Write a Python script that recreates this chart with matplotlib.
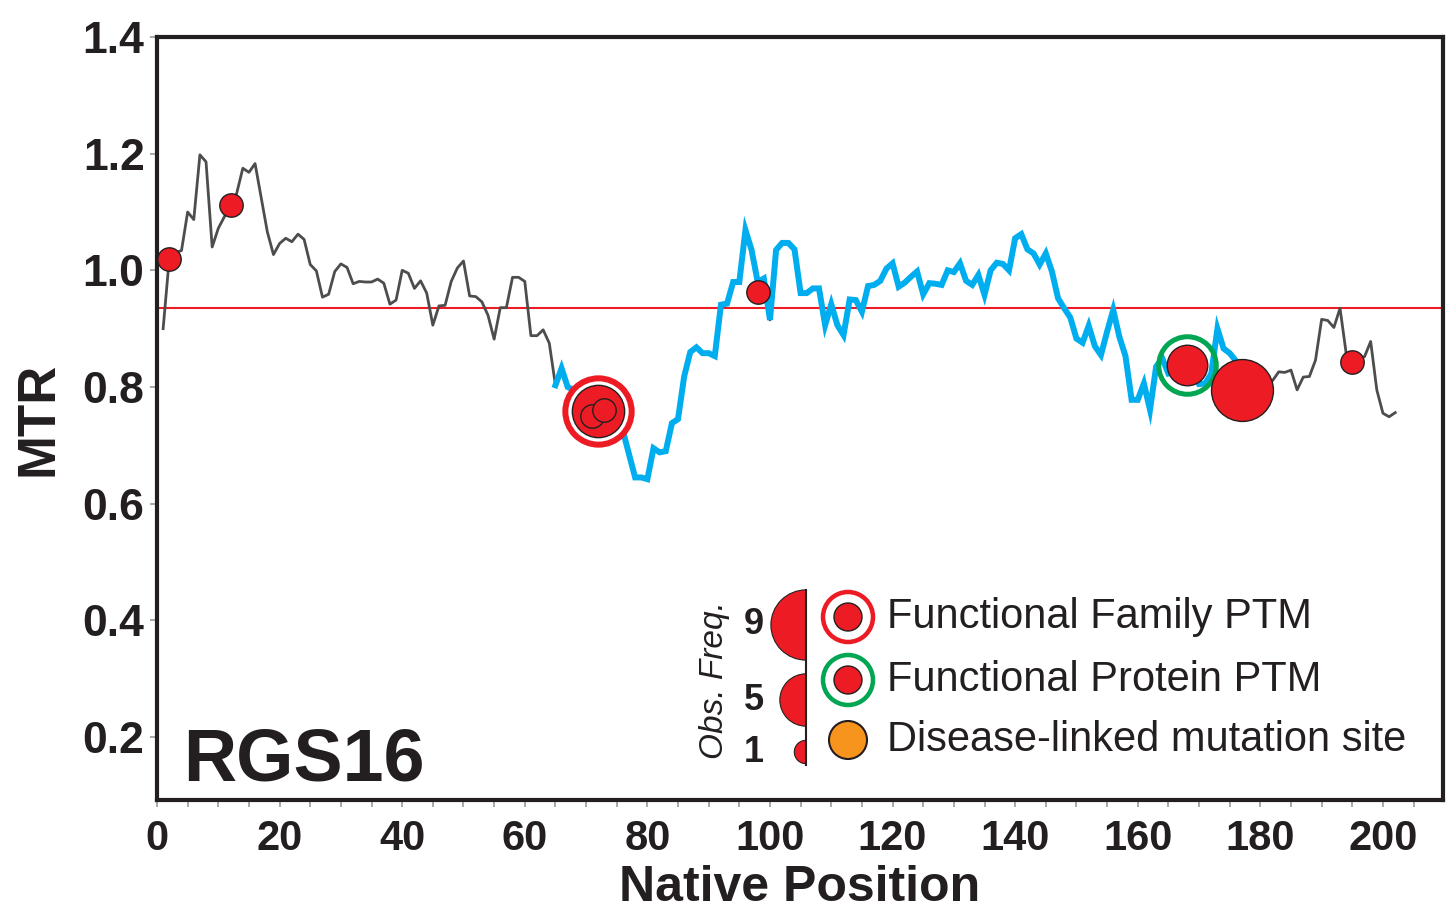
import numpy as np
import matplotlib.pyplot as plt
from matplotlib.patches import Wedge, Circle
from matplotlib.ticker import MultipleLocator

# MTR profile, one value per residue
position = np.arange(1, 203)
mtr = np.array([
    0.900, 1.020, 1.030, 1.034, 1.100, 1.087, 1.198, 1.186, 1.040, 1.072,
    1.092, 1.112, 1.132, 1.175, 1.168, 1.183, 1.125, 1.066, 1.027, 1.046,
    1.055, 1.049, 1.062, 1.053, 1.010, 0.999, 0.954, 0.959, 0.998, 1.011,
    1.005, 0.977, 0.981, 0.980, 0.980, 0.985, 0.978, 0.942, 0.949, 1.000,
    0.995, 0.969, 0.982, 0.961, 0.906, 0.939, 0.940, 0.981, 1.004, 1.016,
    0.956, 0.955, 0.946, 0.923, 0.882, 0.936, 0.936, 0.988, 0.988, 0.981,
    0.888, 0.888, 0.898, 0.875, 0.803, 0.832, 0.800, 0.795, 0.790, 0.780,
    0.770, 0.765, 0.760, 0.750, 0.740, 0.725, 0.685, 0.645, 0.645, 0.642,
    0.695, 0.688, 0.690, 0.738, 0.745, 0.818, 0.860, 0.868, 0.858, 0.858,
    0.853, 0.941, 0.943, 0.980, 0.980, 1.069, 1.035, 0.980, 0.986, 0.915,
    1.035, 1.047, 1.047, 1.036, 0.961, 0.961, 0.969, 0.969, 0.906, 0.942,
    0.906, 0.889, 0.950, 0.949, 0.929, 0.973, 0.975, 0.982, 1.003, 1.012,
    0.972, 0.979, 0.989, 0.998, 0.959, 0.978, 0.977, 0.975, 1.000, 0.997,
    1.012, 0.982, 0.975, 0.992, 0.958, 1.000, 1.013, 1.011, 1.000, 1.055,
    1.062, 1.036, 1.029, 1.010, 1.029, 0.998, 0.952, 0.935, 0.919, 0.883,
    0.876, 0.905, 0.870, 0.855, 0.895, 0.932, 0.886, 0.853, 0.778, 0.778,
    0.806, 0.761, 0.835, 0.849, 0.823, 0.825, 0.835, 0.840, 0.825, 0.805,
    0.806, 0.823, 0.900, 0.866, 0.858, 0.845, 0.825, 0.810, 0.800, 0.800,
    0.808, 0.811, 0.826, 0.825, 0.829, 0.795, 0.817, 0.818, 0.846, 0.916,
    0.914, 0.902, 0.935, 0.858, 0.850, 0.850, 0.852, 0.878, 0.795, 0.755,
    0.749, 0.756,
])

# highlighted (domain) stretch and gene-wide MTR
domain_start, domain_end = 65, 177
gene_mtr = 0.935

# PTM sites: position, MTR, observed frequency, kind
site_pos = [177, 72, 168, 2, 12, 71, 73, 98, 195]
site_mtr = [0.795, 0.758, 0.838, 1.020, 1.112, 0.750, 0.760, 0.963, 0.842]
site_freq = [7, 5, 3, 1, 1, 1, 1, 1, 1]
site_kind = ['', 'family', 'protein', '', '', '', '', '', '']

legend_freq = [9, 5, 1]
legend_labels = ['Functional Family PTM', 'Functional Protein PTM',
                 'Disease-linked mutation site']

RED = '#ed1c24'
GREEN = '#00a651'
ORANGE = '#f7941d'
BLUE = '#00aeef'
GREY = '#4d4d4d'
INK = '#231f20'

PX = 72 / 100  # points per pixel


def radius_px(f):
    return 11.7 * np.sqrt(f)


plt.rcParams['font.family'] = ['Liberation Sans', 'DejaVu Sans']

fig = plt.figure(figsize=(14.49, 9.17), dpi=100)
ax = fig.add_axes([157 / 1449, 1 - 800 / 917, 1286 / 1449, 763 / 917])

ax.plot(position, mtr, color=GREY, lw=2.0, zorder=2)
seg = (position >= domain_start) & (position <= domain_end)
ax.plot(position[seg], mtr[seg], color=BLUE, lw=4.3, zorder=3,
        solid_joinstyle='miter')
ax.axhline(gene_mtr, color=RED, lw=1.5, zorder=1)

for x, y, f, k in zip(site_pos, site_mtr, site_freq, site_kind):
    r = radius_px(f)
    if k == 'family':
        ax.plot(x, y, 'o', ms=2 * (r + 7) * PX, mfc='white', mec=RED,
                mew=6 * PX, zorder=4)
    elif k == 'protein':
        ax.plot(x, y, 'o', ms=2 * (r + 8.5) * PX, mfc='none', mec=GREEN,
                mew=5 * PX, zorder=4)
    ax.plot(x, y, 'o', ms=2 * r * PX, mfc=RED, mec=INK, mew=1.0, zorder=5)

ax.set_xlim(0, 209.8)
ax.set_ylim(0.092, 1.4)
ax.xaxis.set_major_locator(MultipleLocator(20))
ax.xaxis.set_minor_locator(MultipleLocator(5))
ax.set_yticks([0.2, 0.4, 0.6, 0.8, 1.0, 1.2, 1.4])
ax.tick_params(which='both', direction='out', length=5, width=1.2,
               color='#9a9a9a')
ax.tick_params(axis='y', labelsize=32, pad=4)
ax.tick_params(axis='x', labelsize=30, pad=9)
for lab in ax.get_yticklabels() + ax.get_xticklabels():
    lab.set_fontweight('bold')
    lab.set_color(INK)
ax.yaxis.set_major_formatter(plt.FuncFormatter(lambda v, p: f'{v:.1f}'))
for s in ax.spines.values():
    s.set_linewidth(3)
    s.set_color(INK)

ax.set_xlabel('Native Position', fontsize=36, fontweight='bold',
              labelpad=4, color=INK)
ax.set_ylabel('MTR', fontsize=38, fontweight='bold', labelpad=14, color=INK)
ax.text(0.020, 0.026, 'RGS16', transform=ax.transAxes, fontsize=53,
        fontweight='bold', color=INK, va='baseline')

# legend drawn on a pixel-unit overlay
ov = fig.add_axes([0, 0, 1, 1])
ov.set_xlim(0, 1449)
ov.set_ylim(917, 0)
ov.axis('off')

ov.plot([806, 806], [590, 765], color=INK, lw=1.5)
for f, yc in zip(legend_freq, [625, 700, 752]):
    r = radius_px(f)
    ov.add_patch(Wedge((806, yc), r, 90, 270, fc=RED, ec=INK, lw=0.8))
    ov.text(764, yc, str(f), fontsize=26, fontweight='bold', ha='right',
            va='center', color=INK)
ov.text(714, 680, 'Obs. Freq.', fontsize=24, style='italic', rotation=90,
        ha='center', va='center', color=INK)

ov.add_patch(Circle((848, 617), 25, fc='white', ec=RED, lw=4.5 * PX))
ov.add_patch(Circle((848, 617), 14, fc=RED, ec=INK, lw=1.0))
ov.add_patch(Circle((848, 680), 25, fc='white', ec=GREEN, lw=4.5 * PX))
ov.add_patch(Circle((848, 680), 14, fc=RED, ec=INK, lw=1.0))
ov.add_patch(Circle((848, 740), 19, fc=ORANGE, ec=INK, lw=1.5))
for lab, yc in zip(legend_labels, [617, 680, 740]):
    ov.text(887, yc, lab, fontsize=30, va='center', color=INK)

fig.savefig('out.png', dpi=100)
